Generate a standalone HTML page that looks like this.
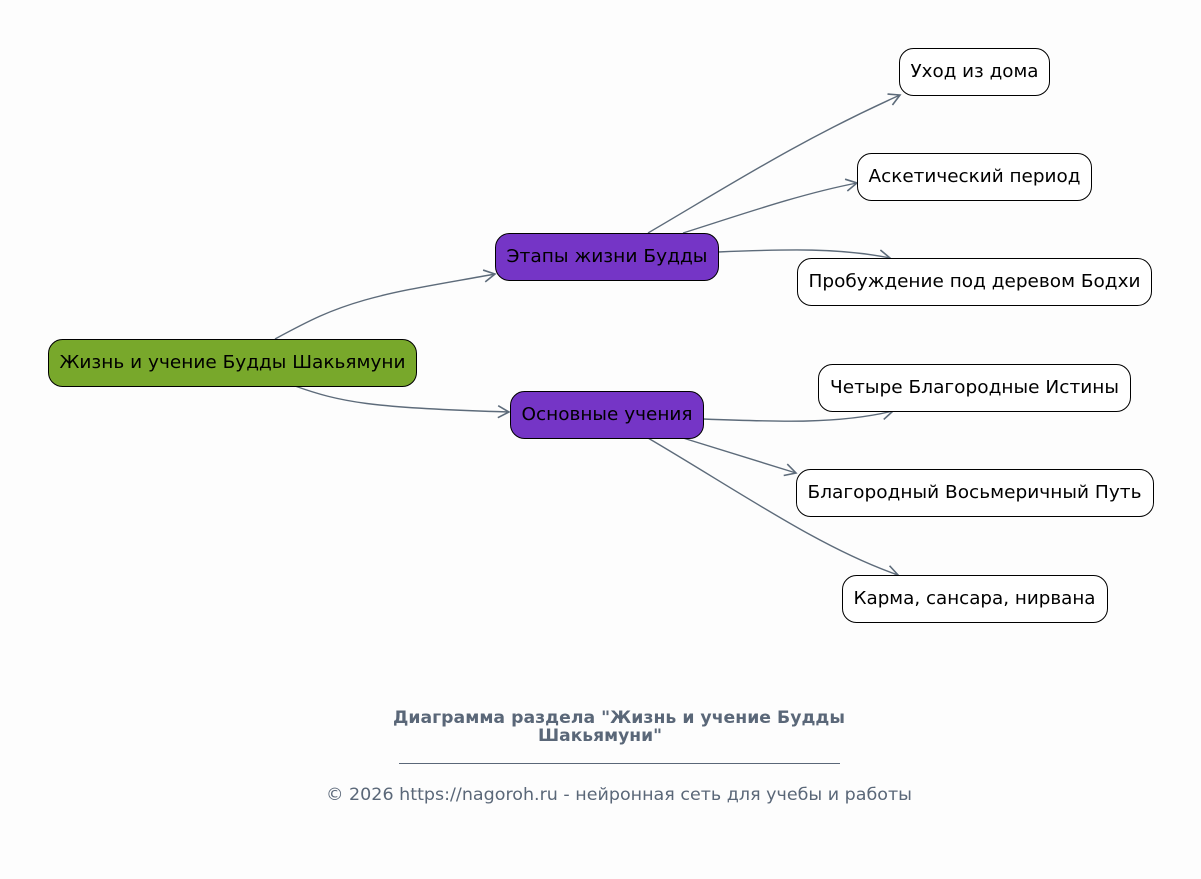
<!DOCTYPE html>
<html><head><meta charset="utf-8"><style>
html,body{margin:0;padding:0;background:#fdfdfd;}
svg{display:block;font-family:"DejaVu Sans","Liberation Sans",sans-serif;}
</style></head><body>
<svg width="1201" height="879" viewBox="0 0 1201 879" xmlns="http://www.w3.org/2000/svg">
<defs><marker id="a" markerWidth="14" markerHeight="14" refX="12" refY="7" orient="auto" markerUnits="userSpaceOnUse"><path d="M1,1 L12,7 L1,13" fill="none" stroke="#5d6b7a" stroke-width="1.6"/></marker></defs>
<rect width="1201" height="879" fill="#fdfdfd"/>
<g fill="none" stroke="#5d6b7a" stroke-width="1.4" marker-end="url(#a)">
<path d="M275,339 C310,320 330,310 365,300 C400,290 440,284 495,274"/>
<path d="M295,386 C340,402 370,408 509,412"/>
<path d="M648,233 C730,185 800,140 900,95"/>
<path d="M683,233 C740,215 800,194 857,183"/>
<path d="M718,252 C790,249 840,248 890,258"/>
<path d="M703,419 C780,422 840,424 893,411"/>
<path d="M683,438 L796,473"/>
<path d="M648,438 C740,492 820,548 898,575"/>
</g>
<g stroke="#000" stroke-width="1">
<rect x="48.5" y="339.5" width="368" height="47" rx="14" fill="#78a82b"/>
<rect x="495.5" y="233.5" width="223" height="47" rx="14" fill="#7535c6"/>
<rect x="510.5" y="391.5" width="193" height="47" rx="14" fill="#7535c6"/>
<rect x="899.5" y="48.5" width="150" height="47" rx="14" fill="#fff"/>
<rect x="857.5" y="153.5" width="234" height="47" rx="14" fill="#fff"/>
<rect x="797.5" y="258.5" width="354" height="47" rx="14" fill="#fff"/>
<rect x="818.5" y="364.5" width="312" height="47" rx="14" fill="#fff"/>
<rect x="796.5" y="469.5" width="357" height="47" rx="14" fill="#fff"/>
<rect x="842.5" y="575.5" width="265" height="47" rx="14" fill="#fff"/>
</g>
<g font-size="18" fill="#000" text-anchor="middle" lengthAdjust="spacingAndGlyphs">
<text x="232.5" y="368" textLength="346" lengthAdjust="spacingAndGlyphs">Жизнь и учение Будды Шакьямуни</text>
<text x="607" y="262" textLength="201" lengthAdjust="spacingAndGlyphs">Этапы жизни Будды</text>
<text x="607" y="420" textLength="171" lengthAdjust="spacingAndGlyphs">Основные учения</text>
<text x="974.5" y="77" textLength="128" lengthAdjust="spacingAndGlyphs">Уход из дома</text>
<text x="974.5" y="182" textLength="212" lengthAdjust="spacingAndGlyphs">Аскетический период</text>
<text x="974.5" y="287" textLength="332" lengthAdjust="spacingAndGlyphs">Пробуждение под деревом Бодхи</text>
<text x="974.5" y="393" textLength="289" lengthAdjust="spacingAndGlyphs">Четыре Благородные Истины</text>
<text x="974.5" y="498" textLength="334" lengthAdjust="spacingAndGlyphs">Благородный Восьмеричный Путь</text>
<text x="974.5" y="604" textLength="242" lengthAdjust="spacingAndGlyphs">Карма, сансара, нирвана</text>
</g>
<g fill="#5a6778" text-anchor="middle">
<text x="619" y="723" font-size="17" font-weight="bold" textLength="452" lengthAdjust="spacingAndGlyphs">Диаграмма раздела "Жизнь и учение Будды</text>
<text x="600" y="741" font-size="17" font-weight="bold" textLength="124" lengthAdjust="spacingAndGlyphs">Шакьямуни"</text>
<line x1="399" y1="763.5" x2="840" y2="763.5" stroke="#5a6778" stroke-width="1"/>
<text x="619" y="800" font-size="17" textLength="586" lengthAdjust="spacingAndGlyphs">© 2026 https://nagoroh.ru - нейронная сеть для учебы и работы</text>
</g>
</svg>
</body></html>
